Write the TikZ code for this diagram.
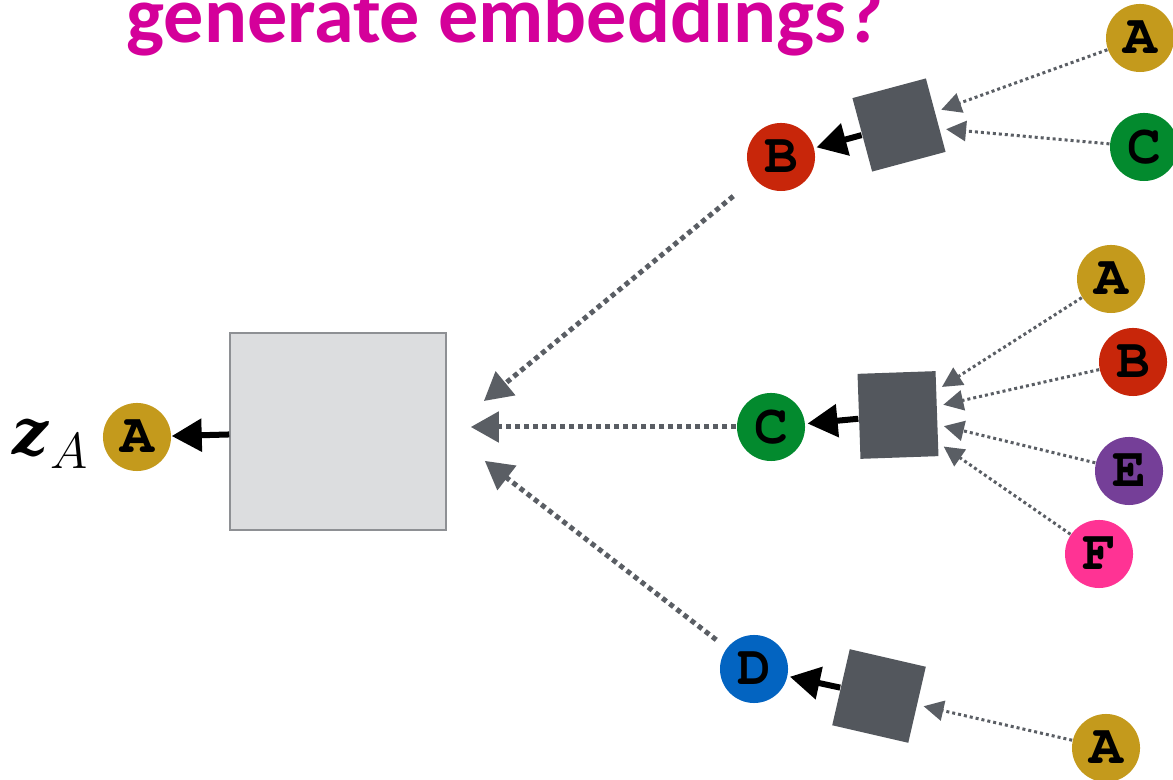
\documentclass[tikz,border=0pt]{standalone}
\usepackage{fontspec}
\newfontfamily\titlefont{Carlito}
\newfontfamily\vecfont{DejaVu Serif}
\newcommand\codefont{\fontencoding{T1}\fontfamily{pcr}\fontseries{b}\selectfont}
\newcommand\mathitfont{\fontencoding{OML}\fontfamily{cmm}\fontseries{m}\fontshape{it}\selectfont}
\usetikzlibrary{arrows.meta}
\definecolor{gold}{HTML}{C49A1C}
\definecolor{brick}{HTML}{C8260A}
\definecolor{leaf}{HTML}{038A2E}
\definecolor{ocean}{HTML}{0364C1}
\definecolor{plum}{HTML}{753F98}
\definecolor{rose}{HTML}{FF3394}
\definecolor{slate}{HTML}{53575D}
\definecolor{ash}{HTML}{5A5E64}
\definecolor{boxfill}{HTML}{DCDDDF}
\definecolor{boxline}{HTML}{8E9094}
\definecolor{title}{HTML}{D4009A}
\begin{document}
\begin{tikzpicture}[x=0.01cm,y=-0.01cm,
  vert/.style={circle,minimum size=0.68cm,inner sep=0pt,font={\codefont\fontsize{16}{16}\selectfont}},
  agg/.style={fill=slate,minimum width=0.76cm,minimum height=0.76cm,inner sep=0pt},
  blk/.style={-{Triangle[length=0.3cm,width=0.32cm]},line width=0.06cm},
  gdash/.style={ash,-{Triangle[length=0.28cm,width=0.3cm]},line width=0.05cm,dash pattern=on 0.05cm off 0.04cm},
  gdot/.style={ash,-{Triangle[length=0.2cm,width=0.2cm]},line width=0.03cm,dash pattern=on 0.03cm off 0.03cm,shorten >=0.06cm}]
\useasboundingbox (0,0) rectangle (1173,780);
\node[anchor=base west,inner sep=0pt,text=title,font={\titlefont\bfseries\fontsize{22.8}{26}\selectfont}] (head) at (126,43) {generate embeddings?};
\node[anchor=base west,inner sep=0pt] (za) at (12,455) {{\vecfont\bfseries\itshape\fontsize{18}{22}\selectfont z}\kern0.02cm\raisebox{-0.14cm}{\fontsize{15}{16}\mathitfont A}};
\node[vert,fill=gold] (A0) at (137,437) {A};
\node[draw=boxline,fill=boxfill,minimum width=2.16cm,minimum height=1.97cm,inner sep=0pt] (box) at (338,431.5) {};
\node[vert,fill=brick] (B) at (781,157) {B};
\node[vert,fill=leaf] (C) at (771,427) {C};
\node[vert,fill=ocean] (D) at (754,669) {D};
\node[agg,rotate=15] (sq1) at (899,125) {};
\node[agg,minimum width=0.78cm,minimum height=0.85cm,rotate=2] (sq2) at (898,415) {};
\node[agg,minimum width=0.78cm,minimum height=0.78cm,rotate=-13] (sq3) at (879,696) {};
\foreach \n/\x/\y/\c/\t/\s in {ba/1140/38/gold/A/sq1, bc/1144/147/leaf/C/sq1,
  ca/1111/279/gold/A/sq2, cb/1133/362/brick/B/sq2, ce/1129/471/plum/E/sq2, cf/1099/554/rose/F/sq2,
  da/1106/748/gold/A/sq3}
{
 \node[vert,fill=\c] (\n) at (\x,\y) {\t};
 \draw[gdot] (\n) -- (\s);
}
\draw[blk] (box) -- (A0);
\draw[blk,shorten >=0.02cm] (sq1) -- (B);
\draw[blk,shorten >=0.02cm] (sq2) -- (C);
\draw[blk,shorten >=0.02cm] (sq3) -- (D);
\draw[gdash,shorten <=0.27cm,shorten >=0.48cm] (B) -- (box.east);
\draw[gdash,shorten >=0.24cm] (C) -- (C -| box.east);
\draw[gdash,shorten <=0.13cm,shorten >=0.48cm] (D) -- (box.east);
\end{tikzpicture}
\end{document}
